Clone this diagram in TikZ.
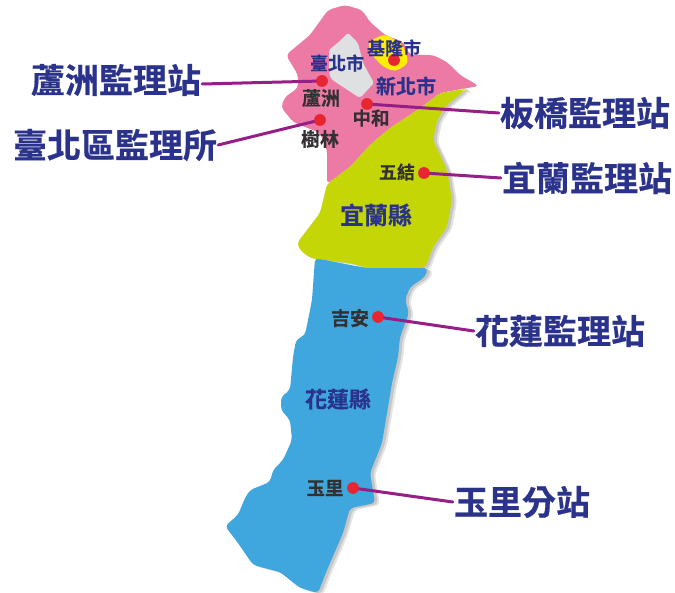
\documentclass[tikz,border=0pt]{standalone}
\usepackage{fontspec}
\newfontfamily\cjkmid{Noto Sans CJK TC Bold}[FakeBold=0.3]
\newfontfamily\cjkheavy{Noto Sans CJK TC Bold}[FakeBold=0.6]
\definecolor{mapblue}{RGB}{64,166,222}
\definecolor{mapgreen}{RGB}{196,214,6}
\definecolor{mappink}{RGB}{236,122,164}
\definecolor{mapgrey}{RGB}{222,224,226}
\definecolor{mapyellow}{RGB}{255,238,0}
\definecolor{navy}{RGB}{42,50,140}
\definecolor{ink}{RGB}{50,48,50}
\definecolor{stem}{RGB}{150,30,135}
\definecolor{pin}{RGB}{232,38,50}
\newcommand{\pinkshape}{(345,5) -- (362,10) -- (370,22) -- (385,35) -- (403,42) -- (410,55) -- (433,55) -- (447,62) -- (460,75) -- (479,86) -- (462,89) -- (440,93) -- (427,103) -- (413,113) -- (390,128) -- (370,145) -- (350,167) -- (327,184) -- (327,150) -- (320,133) -- (293,122) -- (281,107) -- (285,97) -- (298,88) -- (298,75) -- (286,55) -- (310,35) -- (328,10) -- cycle}
\newcommand{\greenshape}{(327,184) -- (350,167) -- (370,145) -- (390,128) -- (413,113) -- (427,103) -- (440,93) -- (464,89) -- (465,90) -- (447,105) -- (437,120) -- (433,140) -- (447,170) -- (452,200) -- (447,227) -- (433,247) -- (425,268) -- (367,268) -- (350,263) -- (310,258) -- (300,250) -- (297,243) -- (320,213) -- cycle}
\newcommand{\blueshape}{(315,258) -- (350,265) -- (367,268) -- (428,268) -- (425,277) -- (410,287) -- (405,300) -- (409,313) -- (400,337) -- (398,357) -- (392,383) -- (382,443) -- (370,473) -- (375,503) -- (350,508) -- (343,533) -- (327,570) -- (318,593) -- (300,588) -- (280,572) -- (253,565) -- (238,543) -- (225,526) -- (238,515) -- (245,498) -- (250,490) -- (270,482) -- (273,470) -- (283,460) -- (292,440) -- (290,420) -- (281,410) -- (281,397) -- (290,390) -- (293,357) -- (296,340) -- (305,335) -- (312,300) -- cycle}
\tikzset{
  big/.style={font=\cjkheavy\fontsize{34}{34}\selectfont,text=navy,inner sep=1pt,anchor=center},
  areaname/.style={font=\cjkmid\fontsize{#1}{#1}\selectfont,text=navy,inner sep=0pt},
  placename/.style={font=\cjkmid\fontsize{#1}{#1}\selectfont,text=ink,inner sep=0pt},
  dot/.style={circle,fill=pin,draw=none,minimum size=11.5pt,inner sep=0pt},
  stemline/.style={draw=stem,line width=3pt,line cap=round},
  region/.style={rounded corners=4pt,draw=none}
}
\begin{document}
\begin{tikzpicture}[x=1pt,y=-1pt]
\useasboundingbox (0,0) rectangle (675,593);
% drop shadows
\begin{scope}[xshift=5pt,yshift=-2pt]
\fill[gray!22,region] \greenshape;
\fill[gray!22,region] \blueshape;
\end{scope}
\begin{scope}[xshift=3pt,yshift=-1pt]
\fill[gray!45,region] \greenshape;
\fill[gray!45,region] \blueshape;
\end{scope}
% regions
\fill[mapblue,region] \blueshape;
\fill[mappink,region] \pinkshape;
\fill[mapgreen,region] \greenshape;
\fill[mapgrey,rounded corners=2pt] (348,33) -- (358,43) -- (363,63) -- (374,83) -- (360,98) -- (346,89) -- (331,79) -- (329,72) -- (329,50) -- (340,41) -- cycle;
\fill[mapyellow,rounded corners=5pt] (367,42) -- (385,34) -- (403,45) -- (409,63) -- (395,72) -- (382,66) -- (372,55) -- cycle;
% station labels
\node[big] (lz) at (116,80) {蘆洲監理站};
\node[big] (tp) at (115,145) {臺北區監理所};
\node[big] (bq) at (585,113) {板橋監理站};
\node[big] (yl) at (587,178) {宜蘭監理站};
\node[big] (hl) at (560,331) {花蓮監理站};
\node[big] (yu) at (522,502) {玉里分站};
% pins
\node[dot] (dkl) at (394,60) {};
\node[dot] (dlz) at (322,81) {};
\node[dot] (dzh) at (367,104) {};
\node[dot] (dsl) at (320,120) {};
\node[dot] (dwj) at (424,173) {};
\node[dot] (dja) at (378,317) {};
\node[dot] (dyu) at (353,488) {};
% connectors
\draw[stemline] ([yshift=-4pt]lz.east) -- (dlz.center);
\draw[stemline] (tp.east) -- (dsl.center);
\draw[stemline] (dzh.center) -- (bq.west);
\draw[stemline] (dwj.center) -- (yl.west);
\draw[stemline] (dja.center) -- (hl.west);
\draw[stemline] (dyu.center) -- (yu.west);
% redraw pins above connectors
\node[dot] at (dkl) {};
\node[dot] at (dlz) {};
\node[dot] at (dzh) {};
\node[dot] at (dsl) {};
\node[dot] at (dwj) {};
\node[dot] at (dja) {};
\node[dot] at (dyu) {};
% map names
\node[areaname=18] (n1) at (394,48) {基隆市};
\node[areaname=18] (n2) at (337,63) {臺北市};
\node[areaname=20] (n3) at (406,86) {新北市};
\node[placename=19] (n4) at (321,98) {蘆洲};
\node[placename=18.5] (n5) at (371,118) {中和};
\node[placename=19] (n6) at (320,139) {樹林};
\node[placename=18] (n7) at (397,172) {五結};
\node[areaname=24] (n8) at (376,215) {宜蘭縣};
\node[placename=19] (n9) at (350,318) {吉安};
\node[areaname=22] (n10) at (338,399) {花蓮縣};
\node[placename=18.5] (n11) at (325,488) {玉里};
\end{tikzpicture}
\end{document}
